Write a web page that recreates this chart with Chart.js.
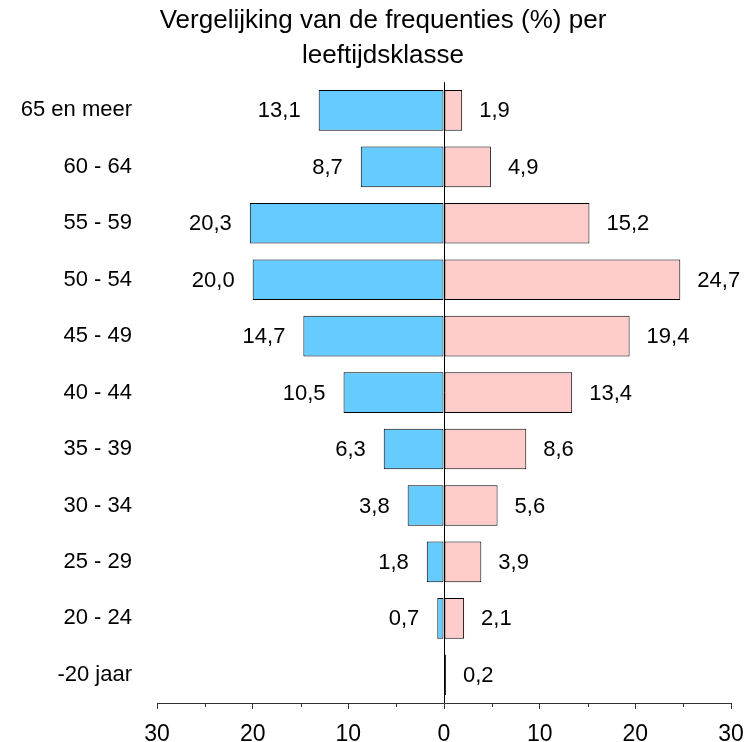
<!DOCTYPE html>
<html>
<head>
<meta charset="utf-8">
<script src="https://cdn.jsdelivr.net/npm/chart.js@4/dist/chart.umd.min.js"></script>
<style>
  html, body { margin: 0; padding: 0; background: #fff; }
  #wrap { width: 744px; height: 742px; }
</style>
</head>
<body>
<div id="wrap"><canvas id="c" width="744" height="742"></canvas></div>
<script>
const categories = ["65 en meer", "60 - 64", "55 - 59", "50 - 54", "45 - 49", "40 - 44", "35 - 39", "30 - 34", "25 - 29", "20 - 24", "-20 jaar"];
const leftValues  = [13.1, 8.7, 20.3, 20.0, 14.7, 10.5, 6.3, 3.8, 1.8, 0.7, 0];
const rightValues = [1.9, 4.9, 15.2, 24.7, 19.4, 13.4, 8.6, 5.6, 3.9, 2.1, 0.2];
const titleLines = ["Vergelijking van de frequenties (%) per", "leeftijdsklasse"];
const xMin = -30, xMax = 30, xStep = 5;

const FONT = "'Liberation Sans', Arial, sans-serif";

const fmt = v => Math.abs(v).toFixed(1).replace('.', ',');

const valueLabels = {
  id: 'valueLabels',
  afterDatasetsDraw(chart) {
    const ctx = chart.ctx;
    ctx.save();
    ctx.font = "22px " + FONT;
    ctx.fillStyle = '#000';
    ctx.textBaseline = 'middle';
    chart.data.datasets.forEach((ds, di) => {
      const meta = chart.getDatasetMeta(di);
      meta.data.forEach((el, i) => {
        const v = ds.data[i];
        if (!v) return;
        if (v < 0) {
          ctx.textAlign = 'right';
          ctx.fillText(fmt(v), el.x - 18, el.y + 1);
        } else {
          ctx.textAlign = 'left';
          ctx.fillText(fmt(v), el.x + 17, el.y + 1);
        }
      });
    });
    ctx.restore();
  }
};

const minorTicks = {
  id: 'minorTicks',
  afterLayout(chart) {
    // let the category labels use the free space at the far left
    chart.scales.y.left = 0;
  },
  afterDraw(chart) {
    const s = chart.scales.x;
    const ctx = chart.ctx;
    ctx.save();
    ctx.strokeStyle = '#333';
    ctx.lineWidth = 1;
    s.ticks.forEach(t => {
      if (t.value % 10 !== 0) {
        const x = Math.round(s.getPixelForValue(t.value)) + 0.5;
        ctx.beginPath();
        ctx.moveTo(x, s.top);
        ctx.lineTo(x, s.top + 4);
        ctx.stroke();
      }
    });
    ctx.restore();
  }
};

new Chart(document.getElementById('c'), {
  type: 'bar',
  data: {
    labels: categories,
    datasets: [
      {
        data: leftValues.map(v => -v),
        backgroundColor: '#66CCFF',
        borderColor: '#000',
        borderWidth: 1,
        borderSkipped: false,
        barPercentage: 0.72,
        categoryPercentage: 1
      },
      {
        data: rightValues,
        backgroundColor: '#FFCCCC',
        borderColor: '#000',
        borderWidth: 1,
        borderSkipped: false,
        barPercentage: 0.72,
        categoryPercentage: 1
      }
    ]
  },
  options: {
    indexAxis: 'y',
    responsive: false,
    animation: false,
    devicePixelRatio: 1,
    layout: { padding: { left: 22, right: 0, top: 0, bottom: 0 } },
    plugins: {
      legend: { display: false },
      tooltip: { enabled: false },
      title: {
        display: true,
        text: titleLines,
        color: '#000',
        font: { family: FONT, size: 26, weight: 'normal', lineHeight: 1.35 },
        padding: { top: 3, bottom: 9 }
      }
    },
    scales: {
      x: {
        type: 'linear',
        stacked: true,
        min: xMin,
        max: xMax,
        afterFit(scale) {
          scale.height = 39;
          scale.paddingRight = 13;
          scale.paddingLeft = 0;
        },
        ticks: {
          stepSize: xStep,
          autoSkip: false,
          maxRotation: 0,
          padding: 12,
          color: '#000',
          font: { family: FONT, size: 23 },
          callback: v => (v % 10 === 0 ? String(Math.abs(v)) : '')
        },
        grid: {
          drawOnChartArea: true,
          drawTicks: true,
          tickLength: 6,
          color: ctx => (ctx.tick && ctx.tick.value === 0 ? '#000' : 'rgba(0,0,0,0)'),
          tickColor: ctx => (ctx.tick && ctx.tick.value % 10 === 0 ? '#333' : 'rgba(0,0,0,0)'),
          lineWidth: 1
        },
        border: { display: true, color: '#333', width: 1 }
      },
      y: {
        stacked: true,
        afterFit(scale) { scale.width = 135; },
        ticks: {
          padding: 25,
          color: '#000',
          font: { family: FONT, size: 22 }
        },
        grid: { display: false, drawTicks: false },
        border: { display: false }
      }
    }
  },
  plugins: [valueLabels, minorTicks]
});
</script>
</body>
</html>
